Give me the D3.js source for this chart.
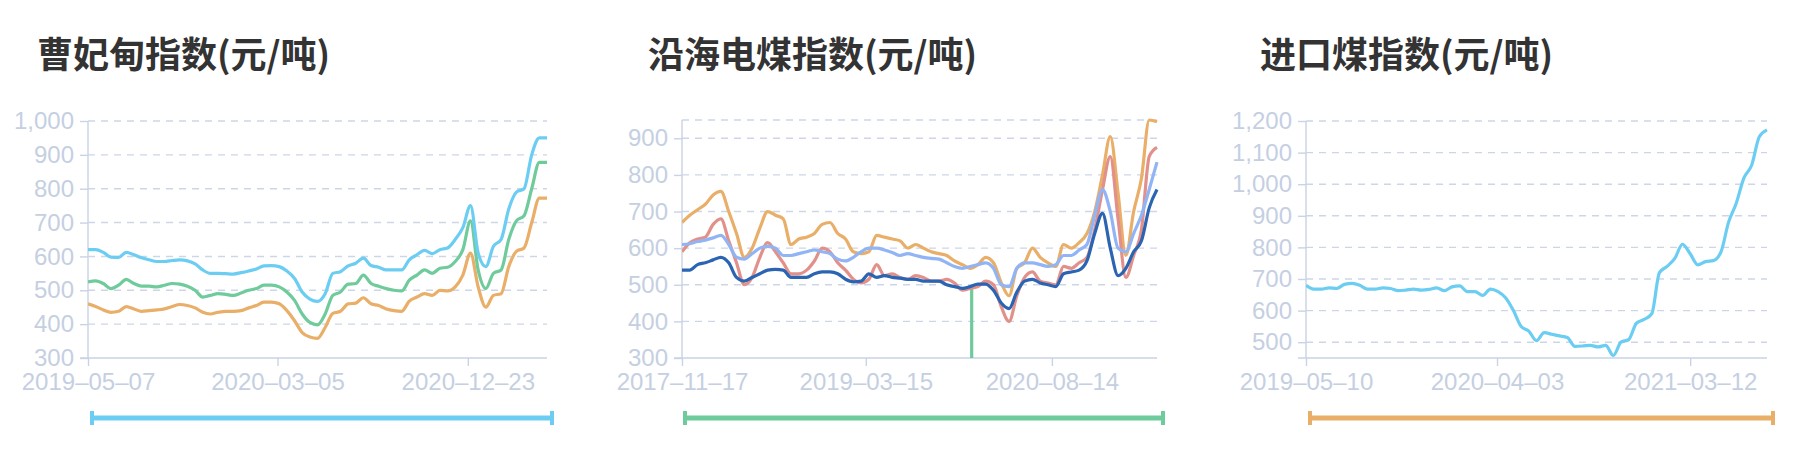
<!DOCTYPE html>
<html><head><meta charset="utf-8">
<script src="https://cdn.jsdelivr.net/npm/d3@7"></script>
<style>body{margin:0;background:#fff;font-family:"Noto Sans CJK SC","Noto Sans",sans-serif}</style>
</head><body><svg id="c" width="1798" height="450"></svg>
<script>
// ---- data ----
const titles = ["曹妃甸指数(元/吨)", "沿海电煤指数(元/吨)", "进口煤指数(元/吨)"];
const tickLabels1 = ["2019-05-07", "2020-03-05", "2020-12-23"];
const tickIdx1 = [0, 24.77, 49.65];
const tickLabels2 = ["2017-11-17", "2019-03-15", "2020-08-14"];
const tickIdx2 = [0, 23.6, 47.5];
const tickLabels3 = ["2019-05-10", "2020-04-03", "2021-03-12"];
const tickIdx3 = [0, 24.86, 50.0];

const c1Blue = [620,620,612,598,597,612,605,596,590,585,585,588,590,587,578,560,550,550,549,548,552,557,563,572,573,570,557,535,495,474,467,490,550,555,572,580,595,573,568,560,560,560,590,605,618,608,620,625,650,685,750,610,570,630,650,740,790,800,900,950,950];
const c1Green = [525,528,520,505,515,532,520,512,512,510,515,520,518,512,500,480,485,490,488,485,492,500,505,515,515,510,495,470,430,405,398,430,485,495,518,520,545,520,512,505,500,498,530,545,560,550,565,568,585,620,705,560,505,550,560,650,705,720,800,878,878];
const c1Orange = [460,452,442,435,438,452,445,438,440,442,445,452,458,455,448,435,430,435,438,438,440,448,455,465,465,460,440,410,375,362,358,390,432,438,460,462,478,460,455,445,440,438,468,480,490,485,500,498,510,545,610,510,450,485,490,570,615,625,700,772,772];

const c2Orange = [670,690,705,720,745,755,700,640,575,600,655,700,690,680,610,625,630,640,665,670,640,625,590,585,590,635,630,625,620,600,610,600,590,585,580,565,555,545,555,575,560,505,470,545,560,600,575,560,550,610,600,615,640,700,800,905,750,580,700,790,950,945];
const c2Red = [590,615,625,630,665,680,620,560,500,520,575,615,590,560,530,530,540,565,600,590,560,540,515,505,515,555,525,530,520,515,525,520,510,510,515,505,485,490,495,510,500,440,400,470,520,535,510,505,500,550,545,560,575,650,760,850,680,520,580,650,850,875];
const c2LBlue = [610,612,618,622,628,635,610,575,570,585,600,605,600,580,580,585,590,595,590,585,570,565,575,590,600,600,595,588,580,585,580,575,572,570,560,550,545,550,555,560,545,500,495,545,560,560,555,550,555,580,580,595,610,690,760,700,600,590,640,690,760,835];
const c2DBlue = [540,540,555,560,568,575,560,520,510,520,530,540,542,540,520,520,520,530,535,535,530,515,508,510,530,520,525,520,518,515,515,510,510,510,500,495,490,495,502,502,485,450,435,480,510,515,505,500,495,530,535,540,565,640,695,600,525,545,590,620,710,760];
const c2GreenIdx = [37.2, 37.2];
const c2Green = [490, 300];

const c3Blue = [680,668,668,672,670,683,686,680,668,668,672,670,663,665,668,665,667,672,663,675,678,660,660,648,668,660,640,600,550,535,505,530,525,520,515,487,488,490,485,490,458,500,508,560,572,590,720,740,765,810,780,745,755,758,785,880,940,1020,1060,1150,1172];

// ---- layout ----
const svg = d3.select("#c");
const axisCol = "#c9d3e5", labCol = "#c5cfe2";
const tickFont = "'Liberation Sans',Arial,sans-serif";
const charts = [
  {title: titles[0], tx: 37, x0: 88, x1: 547, y0: 358, y1: 121, dom: [300, 1000], ticks: [300,400,500,600,700,800,900,1000],
   xt: tickIdx1, xl: tickLabels1, n: c1Blue.length,
   series: [{v: c1Orange, c: "#e9ae68"}, {v: c1Green, c: "#6fcb9c"}, {v: c1Blue, c: "#6ccdf3"}],
   slider: [92, 552, "#6ccdf3"]},
  {title: titles[1], tx: 648, x0: 682, x1: 1157, y0: 358, y1: 120, dom: [300, 950], ticks: [300,400,500,600,700,800,900], topGrid: 950,
   xt: tickIdx2, xl: tickLabels2, n: c2Orange.length,
   series: [{idx: c2GreenIdx, v: c2Green, c: "#6fcb9c"}, {v: c2Orange, c: "#e9ae68"}, {v: c2Red, c: "#e2908a"}, {v: c2LBlue, c: "#91b4f5"}, {v: c2DBlue, c: "#2a64b2"}],
   slider: [685, 1163, "#6fcb9c"]},
  {title: titles[2], tx: 1260, x0: 1306, x1: 1767, y0: 358, y1: 121, dom: [450, 1200], ticks: [500,600,700,800,900,1000,1100,1200],
   xt: tickIdx3, xl: tickLabels3, n: c3Blue.length,
   series: [{v: c3Blue, c: "#6ccdf3"}],
   slider: [1310, 1773, "#e9ae68"]}
];

charts.forEach(ch => {
  const g = svg.append("g");
  g.append("text").attr("x", ch.tx).attr("y", 68).attr("font-size", 36).attr("font-weight", "bold")
    .attr("fill", "#333").text(ch.title);
  const x = d3.scaleLinear().domain([0, ch.n - 1]).range([ch.x0, ch.x1]);
  const y = d3.scaleLinear().domain(ch.dom).range([ch.y0, ch.y1]);
  const grids = ch.ticks.slice(1).concat(ch.topGrid ? [ch.topGrid] : []);
  if (ch.dom[0] !== ch.ticks[0]) grids.unshift(ch.ticks[0]);
  g.selectAll(".gr").data(grids).join("line")
    .attr("x1", ch.x0).attr("x2", ch.x1).attr("y1", d => y(d)).attr("y2", d => y(d))
    .attr("stroke", "#cdd6e7").attr("stroke-width", 1.4).attr("stroke-dasharray", "7,6");
  const ya = d3.axisLeft(y).tickValues(ch.ticks).tickSize(8).tickPadding(6).tickFormat(d3.format(","));
  const yg = g.append("g").attr("transform", `translate(${ch.x0},0)`).call(ya);
  yg.select(".domain").attr("stroke", axisCol).attr("stroke-width", 1.4).attr("d", `M-8,${ch.y0}H0V${ch.y1}`);
  yg.selectAll(".tick line").attr("stroke", axisCol).attr("stroke-width", 1.4);
  yg.selectAll("text").attr("fill", labCol).attr("font-size", 24).attr("font-family", tickFont);
  const xa = d3.axisBottom(x).tickValues(ch.xt).tickSize(8).tickPadding(7).tickFormat((d, i) => ch.xl[i].replace(/-/g, "–"));
  const xg = g.append("g").attr("transform", `translate(0,${ch.y0})`).call(xa);
  xg.select(".domain").attr("stroke", axisCol).attr("stroke-width", 1.4).attr("d", `M${ch.x0},0H${ch.x1}`);
  xg.selectAll(".tick line").attr("stroke", axisCol).attr("stroke-width", 1.4);
  xg.selectAll("text").attr("fill", labCol).attr("font-size", 24).attr("font-family", tickFont);
  const clipId = "clip" + ch.tx;
  g.append("clipPath").attr("id", clipId).append("rect").attr("x", ch.x0).attr("y", ch.y1 - 2).attr("width", ch.x1 - ch.x0 + 2).attr("height", ch.y0 - ch.y1 + 2);
  ch.series.forEach(s => {
    const pts = s.v.map((v, i) => [s.idx ? s.idx[i] : i, v]);
    g.append("path").attr("clip-path", `url(#${clipId})`).attr("d", d3.line().x(d => x(d[0])).y(d => y(d[1])).curve(d3.curveMonotoneX)(pts))
      .attr("fill", "none").attr("stroke", s.c).attr("stroke-width", 3.2).attr("stroke-linejoin", "round");
  });
  const [sx0, sx1, sc] = ch.slider;
  g.append("line").attr("x1", sx0).attr("x2", sx1).attr("y1", 418).attr("y2", 418).attr("stroke", sc).attr("stroke-width", 5);
  [sx0, sx1].forEach(sx => g.append("line").attr("x1", sx).attr("x2", sx).attr("y1", 411).attr("y2", 425).attr("stroke", sc).attr("stroke-width", 4));
});
</script></body></html>
